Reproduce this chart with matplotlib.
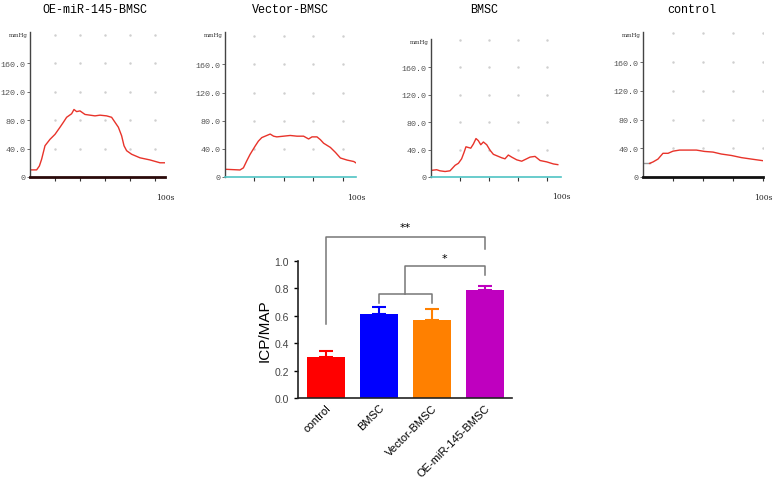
import matplotlib.pyplot as plt
import numpy as np

# ---- top traces (time in s, pressure in mmHg) ----
titles = ['OE-miR-145-BMSC', 'Vector-BMSC', 'BMSC', 'control']

t_oe = [0, 5.3, 7.5, 9.3, 12, 16, 20, 24, 26.7, 29.3, 33.3, 35.2, 37.3, 40, 44, 48, 52, 56,
        61.3, 65.3, 68, 70.7, 73.3, 75.2, 77.3, 81.3, 88, 96, 104, 108]
p_oe = [10, 10, 15.5, 25, 44, 53, 60, 70, 77, 84, 89, 95, 92, 93, 88, 87, 86, 87,
        86, 84, 77, 70, 58, 44, 37, 32, 27, 24, 20, 20]

t_vec = [0, 10.2, 12.5, 14.8, 17, 20.5, 22.7, 25, 28.4, 30.7, 33, 35.2, 39.8, 44.3, 48.9,
         53.4, 56.8, 59.1, 62.5, 64.8, 67, 71.6, 75, 78.4, 83, 87.5, 89]
p_vec = [11, 10, 13, 23, 32, 44, 51, 56, 59, 61, 58, 57, 58, 59, 58,
         58, 54, 57, 57, 53, 48, 42, 35, 27, 24, 22, 20]

t_bm = [0, 3.9, 6.2, 9.7, 13.1, 16.6, 18.9, 21.1, 22.8, 24.1, 25.7, 27.4, 29.2, 31, 32.6,
        34.3, 36.1, 38.4, 40.7, 43, 45.3, 48.7, 51, 53.3, 55.6, 59.1, 62.5, 65.9, 68.3,
        71.7, 75.2, 79.8, 84.4, 87.4]
p_bm = [9.6, 10.6, 9, 8, 9, 17, 20, 26.5, 36, 44, 43, 42, 48, 56, 53,
        47, 51, 47, 39, 33, 31, 28, 26.5, 32, 29, 25, 23, 26.5, 29,
        30, 24, 22, 19, 18]

t_ctl = [4.4, 6.7, 10, 13.3, 16.7, 20, 24.4, 30, 35.6, 41.1, 46.7, 52.2, 58.9, 65.6, 72.2, 80]
p_ctl = [19, 21, 25, 33, 33, 36, 37.5, 37.5, 37.5, 35.6, 34.7, 32, 30, 27, 25, 22.7]

traces = [(t_oe, p_oe), (t_vec, p_vec), (t_bm, p_bm), (t_ctl, p_ctl)]
xmax = [108, 89, 89.6, 80]
ytop = [204, 206, 201, 202]
base_color = ['#2a0a0a', '#4fc4c4', '#4fc4c4', '#111111']
ytick_vals = [0, 40, 80, 120, 160]
ytick_labels = ['0', '40.0', '80.0', '120.0', '160.0']

# ---- bar chart ----
groups = ['control', 'BMSC', 'Vector-BMSC', 'OE-miR-145-BMSC']
ratio = [0.30, 0.61, 0.57, 0.79]
ratio_err = [0.04, 0.055, 0.08, 0.025]
bar_colors = ['#ff0000', '#0000ff', '#ff8000', '#bf00bf']

fig = plt.figure(figsize=(7.78, 4.81), dpi=100)
W, H = 778, 481

# pixel boxes: left, right, top, zero line
boxes = [(30, 165, 33, 178), (225, 356, 33, 178), (431, 561, 40, 178), (643, 763, 33, 178)]
title_x = [95, 290, 484, 692]
mono = 'Liberation Mono'

for i, (l, r, top, bot) in enumerate(boxes):
    ax = fig.add_axes([l / W, (H - bot) / H, (r - l) / W, (bot - top) / H])
    t, p = traces[i]
    if i == 3:
        ax.plot([0, t[0]], [p[0], p[0]], color='#999999', lw=1)
    ax.plot(t, p, color='#e8332a', lw=1)
    ax.set_xlim(0, xmax[i])
    ax.set_ylim(0, ytop[i])
    xt = np.arange(20, xmax[i] + 0.1, 20)
    gx, gy = np.meshgrid(xt, [40, 80, 120, 160, 200])
    ax.scatter(gx.ravel(), gy.ravel(), s=0.6, color='#cfcfcf', zorder=0)
    ax.set_xticks(xt)
    ax.set_xticklabels([])
    ax.set_yticks(ytick_vals)
    ax.set_yticklabels(ytick_labels, family=mono, fontsize=6, color='#555555')
    ax.tick_params(axis='x', length=3, width=0.8, color='#333333')
    ax.tick_params(axis='y', length=2, width=0.6, color='#555555', pad=1)
    for s in ['top', 'right']:
        ax.spines[s].set_visible(False)
    ax.spines['left'].set_color('#444444')
    ax.spines['left'].set_linewidth(1)
    ax.spines['bottom'].set_color(base_color[i])
    ax.spines['bottom'].set_linewidth(2 if i in (0, 3) else 1.2)
    ax.text(-0.02, 1.0, 'mmHg', transform=ax.transAxes, ha='right', va='top',
            family='DejaVu Serif', fontsize=4, color='#333333')
    fig.text(title_x[i] / W, (H - 10) / H, titles[i], family=mono, fontsize=8.5,
             ha='center', va='center')
    ax.text(1.0, -0.11, '100s', transform=ax.transAxes, ha='center', va='top',
            family='DejaVu Serif', fontsize=5.5, color='#222222')

# bar chart
bx = fig.add_axes([298 / W, (H - 399) / H, 214 / W, 137 / H])
x = np.arange(len(groups))
bx.bar(x, ratio, width=0.72, color=bar_colors)
for xi, v, e, c in zip(x, ratio, ratio_err, bar_colors):
    bx.errorbar(xi, v, yerr=[[0], [e]], color=c, capsize=5, elinewidth=1.5, capthick=1.5)
bx.set_xlim(-0.53, 3.52)
bx.set_ylim(0, 1.0)
bx.set_yticks(np.arange(0, 1.01, 0.2))
bx.set_yticklabels(['%.1f' % v for v in np.arange(0, 1.01, 0.2)],
                   family='Liberation Sans', fontsize=7.5, color='#444444')
bx.set_xticks(x)
bx.set_xticklabels(groups, rotation=45, ha='right', rotation_mode='anchor',
                   family='Liberation Sans', fontsize=8)
bx.tick_params(axis='x', length=0, pad=3)
bx.tick_params(axis='y', length=3, width=1)
bx.set_ylabel('ICP/MAP', family='Liberation Sans', fontsize=11, labelpad=2)
for s in ['top', 'right']:
    bx.spines[s].set_visible(False)
for s in ['left', 'bottom']:
    bx.spines[s].set_linewidth(1.2)
    bx.spines[s].set_color('#222222')

# significance brackets
bk = dict(color='#777777', lw=1.1, clip_on=False)
bx.plot([0, 0, 3, 3], [0.54, 1.175, 1.175, 1.09], **bk)
bx.text(1.5, 1.21, '**', ha='center', va='bottom', fontsize=8)
bx.plot([1, 1, 2, 2], [0.69, 0.76, 0.76, 0.69], **bk)
bx.plot([1.5, 1.5, 3, 3], [0.76, 0.96, 0.96, 0.90], **bk)
bx.text(2.25, 0.985, '*', ha='center', va='bottom', fontsize=8)

fig.savefig('out.png', dpi=100)
